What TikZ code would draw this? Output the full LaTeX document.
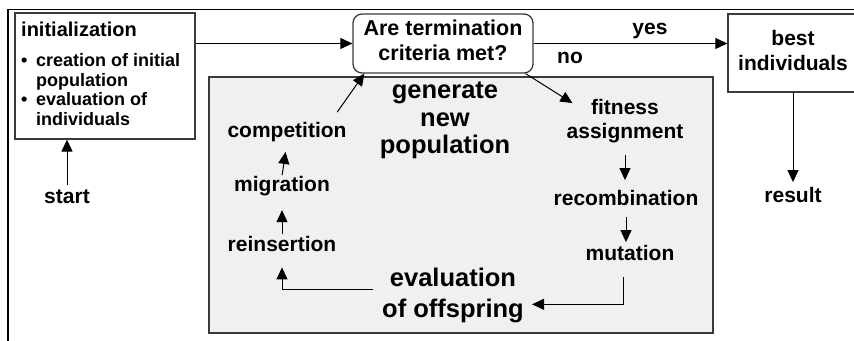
\documentclass[tikz,border=0pt]{standalone}
\usepackage{fontspec}
\setmainfont{Liberation Sans}
\usetikzlibrary{arrows.meta}
\definecolor{panelgray}{HTML}{F0F0F0}
\definecolor{edgegray}{HTML}{3A3A3A}

\begin{document}
\begin{tikzpicture}[x=1pt,y=-1pt,
  arr/.style={draw=black, line width=1pt, -{Triangle[length=12pt,width=11pt]}},
  frame/.style={draw=edgegray, line width=1.3pt, inner sep=0pt},
  lbl/.style={inner sep=0pt, anchor=base, align=center, font=\bfseries\fontsize{21}{24}\selectfont},
  big/.style={inner sep=0pt, anchor=base, align=center, font=\bfseries\fontsize{25.5}{27.5}\selectfont},
]
\useasboundingbox (0,0) rectangle (854,340);
\clip (0,0) rectangle (854,340);

% outer frame edges
\draw[line width=1.5pt] (8,345) -- (8,9.5) -- (860,9.5);

% shaded panel for the generation loop
\node[frame, fill=panelgray, minimum width=504pt, minimum height=256pt] (panel) at (461,205) {};

% initialization box (multi-line texts are placed by the baseline of their last line)
\node[frame, minimum width=180pt, minimum height=126pt] (init) at (105,76) {};
\node[inner sep=0pt, anchor=base west, align=left, font=\bfseries\fontsize{18}{19.5}\selectfont] (inittext) at (21,125)
  {{\fontsize{20}{20}\selectfont initialization}\\[11pt]
   \makebox[15pt][l]{\textbullet}creation of initial\\
   \hspace*{15pt}population\\
   \makebox[15pt][l]{\textbullet}evaluation of\\
   \hspace*{15pt}individuals};

% termination test and result box
\node[frame, rounded corners=9pt, minimum width=180pt, minimum height=59pt, align=center,
      font=\bfseries\fontsize{21.5}{25}\selectfont] (term) at (443,43.5)
  {Are termination\\criteria met?\rule[-6pt]{0pt}{0pt}};
\node[frame, minimum width=130pt, minimum height=78pt, align=center,
      font=\bfseries\fontsize{21}{25}\selectfont] (best) at (793,53)
  {best\\individuals\rule[-5pt]{0pt}{0pt}};

% labels
\node[lbl] (start) at (67,203.5) {start};
\node[lbl] (res) at (793,202.5) {result};
\node[lbl] (yes) at (650,34.5) {yes};
\node[lbl] (no) at (570,63.5) {no};
\node[lbl] (fit) at (625,138.5) {fitness\\assignment};
\node[lbl] (rec) at (626,205.5) {recombination};
\node[lbl] (mut) at (630,260.5) {mutation};
\node[lbl] (comp) at (287,137.5) {competition};
\node[lbl] (mig) at (282,191.5) {migration};
\node[lbl] (rei) at (282,251.5) {reinsertion};
\node[big] (gen) at (445,153.5) {generate\\new\\population};
\node[big, font=\bfseries\fontsize{25.5}{30.3}\selectfont] (ev) at (453,317) {evaluation\\of offspring};

% connectors
\draw[arr] (init.east |- term.west) -- (term.west);
\draw[arr] (term.east) -- (best.west |- term.east);
\draw[arr] ([xshift=-8pt]term.south east) -- ([shift={(6pt,-4pt)}]fit.north west);
\draw[arr, shorten <=12pt, shorten >=10pt] (fit.south) -- (fit.south |- rec.north);
\draw[arr, shorten <=11.5pt, shorten >=3pt] (rec.south) -- (rec.south |- mut.north);
\draw[arr, shorten <=16.5pt] ([xshift=-7pt]mut.south) |- ([shift={(8pt,-9pt)}]ev.east);
\draw[arr, shorten >=15.5pt] ([shift={(-9pt,6pt)}]ev.west) -| (rei.south);
\draw[arr, shorten <=2pt, shorten >=14pt] (rei.north) -- (mig.south);
\draw[arr, shorten <=1pt, shorten >=10pt] (mig.north) -- (comp.south);
\draw[arr] ([shift={(-9.5pt,10pt)}]comp.north east) -- ([xshift=12pt]term.south west);
\draw[arr, shorten <=5pt] (start.north) -- (init.south -| start.north);
\draw[arr, shorten >=5pt] (best.south) -- (res.north);
\end{tikzpicture}
\end{document}
